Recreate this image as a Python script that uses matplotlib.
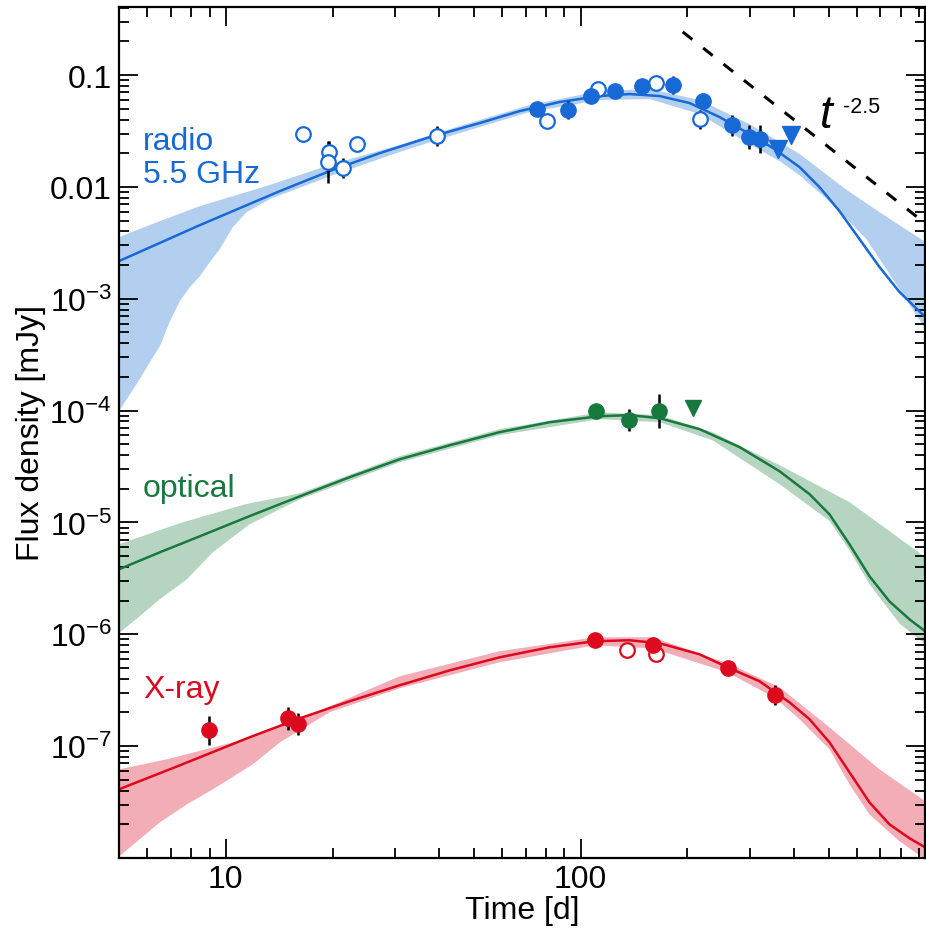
import numpy as np
import matplotlib
matplotlib.use('Agg')
import matplotlib.pyplot as plt
from matplotlib.ticker import FixedLocator, FixedFormatter, LogLocator, NullFormatter

plt.rcParams['font.family'] = ['Liberation Sans', 'DejaVu Sans']
plt.rcParams['mathtext.fontset'] = 'custom'
plt.rcParams['mathtext.rm'] = 'Liberation Sans'
plt.rcParams['mathtext.it'] = 'Liberation Sans:italic'

# ---- data points (time [d], flux [mJy], error half-width [dex]) ----
radio_fill_t = [75.2, 91.9, 106.7, 124.7, 148.6, 181.6, 220.8, 266.3, 297.4, 319.4]
radio_fill_f = [0.0497, 0.0486, 0.0649, 0.0719, 0.0798, 0.0814, 0.0585, 0.0357, 0.0279, 0.0268]
radio_fill_e = [0.03, 0.08, 0.03, 0.03, 0.03, 0.08, 0.075, 0.094, 0.107, 0.125]
radio_open_t = [16.5, 19.5, 19.4, 21.4, 23.4, 39.3, 80.2, 111.6, 162.6, 216.4]
radio_open_f = [0.0297, 0.0205, 0.0167, 0.0147, 0.0242, 0.0285, 0.0388, 0.0750, 0.0848, 0.0404]
radio_open_e = [0.067, 0.10, 0.19, 0.09, 0.03, 0.09, 0.03, 0.03, 0.03, 0.085]
radio_ul_t = [358.9, 392.8]
radio_ul_f = [0.0218, 0.0291]

opt_fill_t = [110.2, 136.5, 165.9]
opt_fill_f = [9.9e-5, 8.2e-5, 9.9e-5]
opt_fill_e = [0.03, 0.10, 0.15]
opt_ul_t = [208.0]
opt_ul_f = [1.05e-4]

xr_fill_t = [8.96, 14.96, 15.96, 109.5, 159.6, 259.5, 354.0]
xr_fill_f = [1.38e-7, 1.77e-7, 1.57e-7, 8.8e-7, 8.1e-7, 4.97e-7, 2.85e-7]
xr_fill_e = [0.13, 0.10, 0.10, 0.03, 0.06, 0.03, 0.09]
xr_open_t = [134.8, 162.7]
xr_open_f = [7.3e-7, 6.6e-7]
xr_open_e = [0.06, 0.06]

# ---- model curves ----
radio_line_t = [5.0, 8.45, 14.2, 19.63, 27.2, 37.6, 51.9, 67.3, 87.3, 113.1, 137.4, 167.0,
                202.8, 246.4, 299.3, 352.0, 414.0, 471.1, 536.6, 610.9, 695.6, 791.8, 937]
radio_line_f = [2.17e-3, 4.55e-3, 9.17e-3, 0.01385, 0.02006, 0.0279, 0.0372, 0.0476, 0.0574,
                0.0649, 0.0676, 0.0649, 0.0562, 0.0421, 0.0297, 0.0218, 0.01503, 9.96e-3,
                6.07e-3, 3.41e-3, 1.92e-3, 1.15e-3, 6.84e-4]
radio_hi_t = [5.0, 6.52, 8.45, 13.05, 20.0, 30.9, 45.6, 71.8, 113.1, 156.5, 216.4, 299.3,
              414.0, 557.9, 695.6, 937]
radio_hi_f = [3.56e-3, 4.94e-3, 6.73e-3, 0.0102, 0.0160, 0.0237, 0.0350, 0.0539, 0.0719, 0.0750,
              0.0598, 0.0364, 0.0197, 9.56e-3, 5.95e-3, 3.21e-3]
radio_lo_t = [5.0, 5.37, 5.72, 6.11, 6.52, 6.96, 7.42, 7.92, 8.45, 9.02, 9.62, 10.46, 11.46,
              13.30, 16.91, 20.0, 30.9, 39.3, 51.9, 71.8, 113.1, 156.5, 216.4, 299.3, 363.6,
              414.0, 512.8, 639.3, 791.8, 937]
radio_lo_f = [9.88e-5, 1.40e-4, 1.91e-4, 2.71e-4, 3.77e-4, 6.30e-4, 9.52e-4, 1.27e-3, 1.59e-3,
              2.13e-3, 2.78e-3, 4.37e-3, 5.95e-3, 7.78e-3, 0.01038, 0.0127, 0.0205, 0.0262,
              0.0343, 0.0467, 0.0598, 0.0610, 0.0448, 0.0241, 0.0170, 0.0127, 7.02e-3,
              3.41e-3, 1.22e-3, 5.35e-4]

opt_line_t = [5.0, 6.52, 8.45, 11.68, 16.16, 22.35, 30.9, 42.8, 59.1, 81.8, 113.1, 137.4,
              167.0, 216.4, 280.5, 363.6, 441.7, 502.9, 572.5, 651.9, 741.9, 845.1, 937]
opt_line_f = [3.81e-6, 5.41e-6, 7.52e-6, 1.14e-5, 1.71e-5, 2.54e-5, 3.67e-5, 4.90e-5, 6.41e-5,
              7.87e-5, 8.91e-5, 9.10e-5, 8.55e-5, 6.82e-5, 4.71e-5, 2.87e-5, 1.79e-5, 1.18e-5,
              6.38e-6, 3.30e-6, 1.97e-6, 1.36e-6, 1.06e-6]
opt_hi_t = [5.0, 7.42, 11.31, 16.16, 30.9, 59.1, 113.1, 167.0, 235.4, 363.6, 572.5, 937]
opt_hi_f = [6.38e-6, 9.84e-6, 1.45e-5, 1.82e-5, 3.91e-5, 6.82e-5, 9.67e-5, 9.10e-5, 6.41e-5,
            3.25e-5, 1.52e-5, 4.88e-6]
opt_lo_t = [5.0, 5.72, 6.52, 7.77, 9.19, 11.68, 16.16, 30.9, 59.1, 113.1, 167.0, 235.4, 363.6,
            502.9, 572.5, 651.9, 791.8, 937]
opt_lo_f = [1.02e-6, 1.45e-6, 2.06e-6, 3.10e-6, 5.41e-6, 9.64e-6, 1.61e-5, 3.45e-5, 6.03e-5,
            8.38e-5, 7.87e-5, 5.43e-5, 2.20e-5, 1.03e-5, 5.64e-6, 2.80e-6, 1.25e-6, 8.14e-7]

xr_line_t = [5.0, 7.42, 11.68, 16.16, 22.35, 30.9, 42.8, 59.1, 81.8, 109.5, 137.4, 167.0,
             216.4, 263.0, 319.4, 388.0, 441.7, 502.9, 572.5, 651.9, 741.9, 845.1, 937]
xr_line_f = [4.11e-8, 6.73e-8, 1.20e-7, 1.77e-7, 2.52e-7, 3.50e-7, 4.76e-7, 6.22e-7, 7.65e-7,
             8.66e-7, 8.84e-7, 8.31e-7, 6.62e-7, 4.97e-7, 3.80e-7, 2.46e-7, 1.74e-7, 1.08e-7,
             5.83e-8, 3.14e-8, 2.00e-8, 1.50e-8, 1.24e-8]
xr_hi_t = [5.0, 6.82, 10.46, 16.16, 30.9, 59.1, 109.5, 159.6, 259.5, 363.6, 502.9, 695.6, 937]
xr_hi_f = [6.2e-8, 7.62e-8, 1.08e-7, 1.74e-7, 4.21e-7, 7.05e-7, 9.40e-7, 9.40e-7, 5.50e-7,
           3.36e-7, 1.47e-7, 6.20e-8, 3.21e-8]
xr_lo_t = [5.0, 5.72, 6.52, 7.77, 9.19, 11.92, 14.2, 19.63, 30.9, 59.1, 109.5, 159.6, 259.5,
           354.2, 414.0, 502.9, 572.5, 651.9, 791.8, 937]
xr_lo_f = [1.03e-8, 1.47e-8, 2.08e-8, 3.02e-8, 4.11e-8, 6.87e-8, 1.08e-7, 2.01e-7, 3.29e-7,
           5.62e-7, 7.97e-7, 7.49e-7, 4.57e-7, 2.68e-7, 1.74e-7, 9.36e-8, 4.55e-8, 2.45e-8,
           1.41e-8, 9.7e-9]

# t^-2.5 guide
slope_t = [194, 1000]
slope_f = [0.243, 0.0040]

ytick_vals = [0.1, 0.01, 1e-3, 1e-4, 1e-5, 1e-6, 1e-7]
ytick_labels = ['0.1', '0.01', r'$10^{-3}$', r'$10^{-4}$', r'$10^{-5}$', r'$10^{-6}$', r'$10^{-7}$']
xtick_vals = [10, 100, 1000]
xtick_labels = ['10', '100', '1000']

BLUE = '#1769d6'
BLUE_BAND = '#b3cff0'
GREEN = '#18793f'
GREEN_BAND = '#b5d5c0'
RED = '#dc0a1e'
RED_BAND = '#f2adb6'

FS = 23

fig = plt.figure(figsize=(9.26, 9.29), dpi=100)
ax = fig.add_axes([0.1285, 0.0754, 0.8705, 0.9160])


def band(hi_t, hi_f, lo_t, lo_f, color):
  xs = list(hi_t) + list(lo_t)[::-1]
  ys = list(hi_f) + list(lo_f)[::-1]
  ax.fill(xs, ys, color=color, lw=0, zorder=1)


def errs(f, e):
  f = np.array(f)
  e = np.array(e)
  return [f - f * 10**(-e), f * 10**e - f]


def points(t, f, e, color, filled):
  ax.errorbar(t, f, yerr=errs(f, e), fmt='none', ecolor='black', elinewidth=1.8, capsize=0, zorder=3)
  if filled:
    ax.plot(t, f, 'o', ms=11, mfc=color, mec=color, zorder=4)
  else:
    ax.plot(t, f, 'o', ms=10.5, mfc='white', mec=color, mew=1.6, zorder=4)


band(radio_hi_t, radio_hi_f, radio_lo_t, radio_lo_f, BLUE_BAND)
band(opt_hi_t, opt_hi_f, opt_lo_t, opt_lo_f, GREEN_BAND)
band(xr_hi_t, xr_hi_f, xr_lo_t, xr_lo_f, RED_BAND)

ax.plot(radio_line_t, radio_line_f, color=BLUE, lw=1.8, zorder=2)
ax.plot(opt_line_t, opt_line_f, color=GREEN, lw=1.8, zorder=2)
ax.plot(xr_line_t, xr_line_f, color=RED, lw=1.8, zorder=2)

ax.plot(slope_t, slope_f, color='black', lw=2.2, dashes=(4, 4.5), zorder=2)

points(radio_open_t, radio_open_f, radio_open_e, BLUE, False)
points(radio_fill_t, radio_fill_f, radio_fill_e, BLUE, True)
ax.plot(radio_ul_t, radio_ul_f, 'v', ms=13, color=BLUE, zorder=4)

points(opt_fill_t, opt_fill_f, opt_fill_e, GREEN, True)
ax.plot(opt_ul_t, opt_ul_f, 'v', ms=12, color=GREEN, zorder=4)

points(xr_open_t, xr_open_f, xr_open_e, RED, False)
points(xr_fill_t, xr_fill_f, xr_fill_e, RED, True)

ax.set_xscale('log')
ax.set_yscale('log')
ax.set_xlim(5, 935)
ax.set_ylim(1e-8, 0.406)

ax.yaxis.set_major_locator(FixedLocator(ytick_vals))
ax.yaxis.set_major_formatter(FixedFormatter(ytick_labels))
ax.yaxis.set_minor_locator(LogLocator(base=10, subs=np.arange(2, 10), numticks=20))
ax.yaxis.set_minor_formatter(NullFormatter())
ax.xaxis.set_major_locator(FixedLocator(xtick_vals))
ax.xaxis.set_major_formatter(FixedFormatter(xtick_labels))
ax.xaxis.set_minor_locator(LogLocator(base=10, subs=np.arange(2, 10), numticks=20))
ax.xaxis.set_minor_formatter(NullFormatter())

ax.tick_params(which='both', direction='in', top=True, right=True, width=1.3, labelsize=FS, colors='black')
ax.tick_params(which='major', length=14)
ax.tick_params(which='minor', length=7)
ax.tick_params(axis='y', which='major', pad=5)
ax.tick_params(axis='x', which='major', pad=4)
for s in ax.spines.values():
  s.set_linewidth(1.6)

ax.set_xlabel('Time [d]', fontsize=FS, labelpad=1)
ax.set_ylabel('Flux density [mJy]', fontsize=FS)
ax.yaxis.set_label_coords(-0.09, 0.5)

ax.text(0.0297, 0.8331, 'radio', transform=ax.transAxes, color=BLUE, fontsize=FS, va='baseline', ha='left')
ax.text(0.0297, 0.7944, '5.5 GHz', transform=ax.transAxes, color=BLUE, fontsize=FS, va='baseline', ha='left')
ax.text(0.0297, 0.4254, 'optical', transform=ax.transAxes, color=GREEN, fontsize=FS, va='baseline', ha='left')
ax.text(0.0297, 0.1892, 'X-ray', transform=ax.transAxes, color=RED, fontsize=FS, va='baseline', ha='left')
ax.text(0.869, 0.859, r'$t$', transform=ax.transAxes, fontsize=33, va='baseline', ha='left')
ax.text(0.8985, 0.8766, '-2.5', transform=ax.transAxes, fontsize=15.5, va='baseline', ha='left')

fig.savefig('out.png', dpi=100)
